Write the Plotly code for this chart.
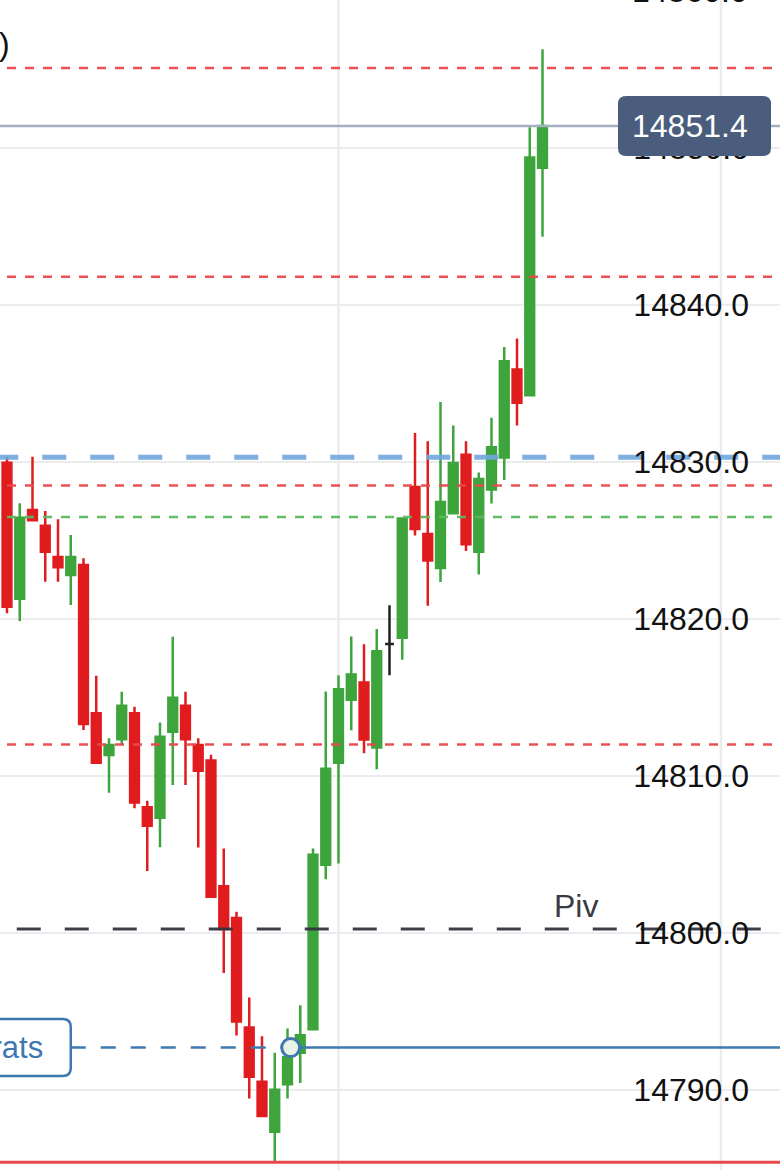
import plotly.graph_objects as go
import pandas as pd

# ---------------- data ----------------
times = list(pd.date_range("2024-03-15 09:33", periods=44, freq="min"))
opens = [14836.43, 14829.96, 14821.29, 14826.94, 14825.94, 14823.95, 14822.80, 14823.44,
         14813.99, 14811.34, 14812.34, 14813.99, 14808.01, 14807.34, 14812.82, 14814.48,
         14811.97, 14810.98, 14802.97, 14800.96, 14793.98, 14790.52, 14787.34, 14790.36,
         14792.38, 14793.87, 14804.34, 14810.85, 14814.85, 14815.96, 14811.82, 14818.41,
         14818.81, 14828.41, 14825.41, 14823.25, 14826.73, 14830.46, 14824.28, 14828.25,
         14830.29, 14835.89, 14834.25, 14848.75]
highs = [14836.43, 14830.34, 14827.37, 14830.34, 14826.88, 14826.35, 14825.35, 14823.87,
         14816.39, 14812.40, 14815.37, 14814.41, 14808.43, 14813.40, 14818.87, 14815.37,
         14812.40, 14811.36, 14805.39, 14801.36, 14795.89, 14793.43, 14792.38, 14793.92,
         14795.40, 14805.39, 14815.39, 14816.41, 14818.89, 14818.39, 14819.36, 14820.87,
         14826.40, 14831.85, 14831.32, 14833.82, 14832.33, 14831.32, 14829.33, 14832.82,
         14837.33, 14837.86, 14851.32, 14856.29]
lows = [14830.13, 14820.36, 14819.87, 14826.29, 14822.38, 14822.38, 14820.89, 14812.93,
        14810.85, 14808.94, 14811.97, 14807.94, 14803.95, 14805.46, 14809.43, 14809.43,
        14805.45, 14802.31, 14797.45, 14793.47, 14789.46, 14788.35, 14785.48, 14789.46,
        14790.45, 14793.87, 14803.42, 14804.43, 14812.91, 14811.45, 14810.43, 14816.41,
        14817.40, 14825.32, 14820.85, 14822.36, 14826.73, 14824.33, 14822.84, 14827.36,
        14828.85, 14832.33, 14834.25, 14844.35]
closes = [14830.13, 14820.78, 14826.45, 14826.29, 14824.29, 14823.29, 14823.95, 14813.31,
          14810.85, 14811.97, 14814.48, 14808.32, 14806.83, 14812.50, 14814.99, 14812.34,
          14810.34, 14802.31, 14800.25, 14794.36, 14790.85, 14788.35, 14790.01, 14792.08,
          14793.48, 14804.99, 14810.46, 14815.52, 14816.46, 14812.32, 14817.94, 14818.41,
          14826.40, 14825.73, 14823.73, 14827.45, 14829.93, 14824.76, 14828.92, 14830.94,
          14836.42, 14833.78, 14849.40, 14851.40]

pivot_level = 14800.25
red_levels = [14855.1, 14841.8, 14828.5, 14812.0]
green_level = 14826.5
blue_level = 14830.3
stop_level = 14785.4
entry_level = 14792.7
entry_time = pd.Timestamp("2024-03-15 09:56:15")
label_time = pd.Timestamp("2024-03-15 09:39")
levels_start = pd.Timestamp("2024-03-15 09:34")
blue_start = pd.Timestamp("2024-03-15 09:33")
pivot_start = pd.Timestamp("2024-03-15 09:31")
line_end = pd.Timestamp("2024-03-15 10:45")
grid_times = list(pd.date_range("2024-03-15 09:30", "2024-03-15 10:30", freq="30min"))
last_price = closes[-1]
pivot_text = "Piv"
entry_text = "Contrats"
corner_text = ")"

# ---------------- geometry / style ----------------
W, H = 780, 1170
X0_PX = 7.0          # pixel of first full candle
STEP_PX = 12.75      # pixels per candle
Y_REF, Y_REF_PX, PX_PER_UNIT = 14850.0, 148.0, 15.7
first_t = times[1]
x_r0 = first_t + pd.Timedelta(minutes=-X0_PX / STEP_PX)
x_r1 = first_t + pd.Timedelta(minutes=(W - X0_PX) / STEP_PX)
y_top = Y_REF + Y_REF_PX / PX_PER_UNIT
y_bot = Y_REF - (H - Y_REF_PX) / PX_PER_UNIT

def xpaper(t):
    return (t - x_r0) / (x_r1 - x_r0)

def ypaper(v):
    return (v - y_bot) / (y_top - y_bot)

RED = "#e01c1f"
GREEN = "#3ea53c"
LVL_RED = "#e8484c"
LVL_GREEN = "#5cb85c"
BLUE = "#3e78b0"
GRID = "#ececef"
FONT = "Liberation Sans, Arial, Helvetica, sans-serif"

fig = go.Figure()

norm = [k for k in range(len(times)) if opens[k] != closes[k]]
doji = [k for k in range(len(times)) if opens[k] == closes[k]]

fig.add_trace(go.Candlestick(
    x=[times[k] for k in norm], open=[opens[k] for k in norm],
    high=[highs[k] for k in norm], low=[lows[k] for k in norm],
    close=[closes[k] for k in norm],
    increasing=dict(line=dict(color=GREEN, width=2.5), fillcolor=GREEN),
    decreasing=dict(line=dict(color=RED, width=2.5), fillcolor=RED),
    hoverinfo="skip", showlegend=False))
fig.add_trace(go.Candlestick(
    x=[times[k] for k in doji], open=[opens[k] for k in doji],
    high=[highs[k] for k in doji], low=[lows[k] for k in doji],
    close=[closes[k] for k in doji],
    increasing=dict(line=dict(color="#222226", width=2.5), fillcolor="#222226"),
    decreasing=dict(line=dict(color="#222226", width=2.5), fillcolor="#222226"),
    hoverinfo="skip", showlegend=False))

def hline(y, x0, color, width, dash, opacity=1.0):
    fig.add_trace(go.Scatter(x=[x0, line_end], y=[y, y], mode="lines",
                             line=dict(color=color, width=width, dash=dash),
                             opacity=opacity, hoverinfo="skip", showlegend=False))

for lv in red_levels:
    hline(lv, levels_start, LVL_RED, 2.5, "9px,9px", 0.95)
hline(green_level, levels_start, LVL_GREEN, 2.5, "9px,9px", 0.95)
hline(blue_level, blue_start, "#6fa6dd", 5, "24px,24px", 0.9)
hline(pivot_level, pivot_start, "#34343e", 3, "24px,24px", 0.95)
hline(last_price, x_r0 - pd.Timedelta(minutes=5), "#a5afbf", 2.5, "solid")
hline(stop_level, x_r0 - pd.Timedelta(minutes=5), LVL_RED, 3, "solid")

# entry line: dashed to the marker, solid after it
fig.add_trace(go.Scatter(x=[label_time, entry_time], y=[entry_level, entry_level],
                         mode="lines", line=dict(color=BLUE, width=2.5, dash="15px,15px"),
                         hoverinfo="skip", showlegend=False))
fig.add_trace(go.Scatter(x=[entry_time, line_end], y=[entry_level, entry_level],
                         mode="lines", line=dict(color=BLUE, width=2.5),
                         hoverinfo="skip", showlegend=False))
fig.add_trace(go.Scatter(x=[entry_time], y=[entry_level], mode="markers",
                         marker=dict(symbol="circle", size=18, color="#e8f3e6",
                                     line=dict(color=BLUE, width=3)),
                         hoverinfo="skip", showlegend=False))

def rounded_rect(x0, x1, y0, y1, rpx):
    rx, ry = rpx / W, rpx / H
    return (f"M{x0+rx},{y0} L{x1-rx},{y0} Q{x1},{y0} {x1},{y0+ry} "
            f"L{x1},{y1-ry} Q{x1},{y1} {x1-rx},{y1} L{x0+rx},{y1} "
            f"Q{x0},{y1} {x0},{y1-ry} L{x0},{y0+ry} Q{x0},{y0} {x0+rx},{y0} Z")

shapes = []
# vertical time grid (drawn as shapes so the inside y labels do not hide it)
for gt in grid_times:
    shapes.append(dict(type="line", xref="x", yref="paper", x0=gt, x1=gt, y0=0, y1=1,
                       layer="below", line=dict(color=GRID, width=2.5)))
# last price box
pc = ypaper(last_price)
shapes.append(dict(type="path", xref="paper", yref="paper", layer="above",
                   path=rounded_rect(618 / W, 771 / W, pc - 30 / H, pc + 30 / H, 8),
                   fillcolor="#4a5d7c", line=dict(width=0)))
# entry label box
ec = ypaper(entry_level)
bx1 = xpaper(label_time)
shapes.append(dict(type="path", xref="paper", yref="paper", layer="above",
                   path=rounded_rect(bx1 - 200 / W, bx1, ec - 28.5 / H, ec + 28.5 / H, 8),
                   fillcolor="white", line=dict(color=BLUE, width=2.5)))

annotations = [
    dict(xref="paper", yref="paper", x=750 / W, y=pc, xanchor="right", yanchor="middle",
         text=f"{last_price:.1f}", showarrow=False,
         font=dict(family=FONT, size=32, color="white")),
    dict(xref="paper", yref="paper", x=bx1 - 26 / W, y=ec, xanchor="right", yanchor="middle",
         text=entry_text, showarrow=False, font=dict(family=FONT, size=31, color=BLUE)),
    dict(xref="paper", yref="paper", x=600 / W, y=ypaper(pivot_level) + 23 / H,
         xanchor="right", yanchor="middle", text=pivot_text, showarrow=False,
         font=dict(family=FONT, size=32, color="#3a3a44")),
    dict(xref="paper", yref="paper", x=12 / W, y=1 - 44 / H, xanchor="right",
         yanchor="middle", text=corner_text, showarrow=False,
         font=dict(family=FONT, size=32, color="#111111")),
    dict(xref="paper", yref="paper", x=750 / W, y=ypaper(14860.0), xanchor="right",
         yanchor="middle", text="14860.0", showarrow=False,
         font=dict(family=FONT, size=32, color="#111111")),
]

fig.update_layout(
    width=W, height=H, margin=dict(l=0, r=0, t=0, b=0, pad=0),
    paper_bgcolor="white", plot_bgcolor="white", showlegend=False,
    boxgap=0.31, boxgroupgap=0.0,
    font=dict(family=FONT, size=32, color="#111111"),
    shapes=shapes, annotations=annotations,
    xaxis=dict(type="date", range=[x_r0, x_r1], showticklabels=False, ticks="",
               showgrid=False, zeroline=False,
               showline=False, rangeslider=dict(visible=False), fixedrange=True),
    yaxis=dict(side="right", range=[y_bot, y_top], dtick=10, tick0=14800,
               tickformat=".1f", ticklabelposition="inside", ticklabelstandoff=28,
               ticks="", showgrid=True, gridcolor=GRID, gridwidth=2.5,
               zeroline=False, showline=False, automargin=False,
               tickfont=dict(family=FONT, size=32, color="#111111"), fixedrange=True),
)

fig.write_html(
    "out.html",
    config={"displayModeBar": False, "staticPlot": True},
    post_script="document.body.style.margin='0';document.body.style.padding='0';"
                "document.documentElement.style.margin='0';",
)
